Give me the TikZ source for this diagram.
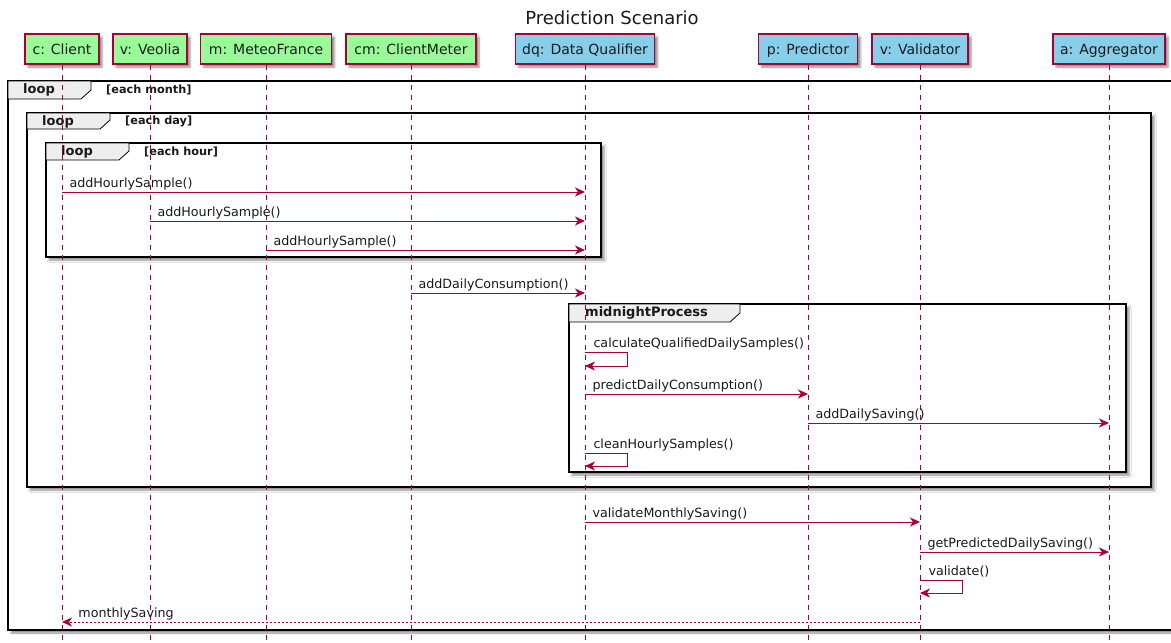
\documentclass[tikz,border=0pt]{standalone}
\usepackage{fontspec}
\setmainfont{DejaVu Sans}
\usetikzlibrary{arrows.meta,shadows,shadows.blur}

\definecolor{umlred}{HTML}{A80036}
\definecolor{actgreen}{HTML}{98FB98}
\definecolor{sysblue}{HTML}{87CEEB}
\definecolor{tabgray}{HTML}{EEEEEE}
\definecolor{ink}{HTML}{1A1A1A}

\tikzset{
  softshadow/.style={blur shadow={shadow xshift=3pt, shadow yshift=-3pt,
      shadow blur radius=2pt, shadow opacity=45}},
  participant/.style={draw=umlred, line width=1.2pt, minimum height=30pt,
      inner sep=0pt, text height=10.8pt, text depth=0pt, text=ink,
      font=\fontsize{14}{16}\selectfont, softshadow},
  actorbox/.style={participant, fill=actgreen},
  servicebox/.style={participant, fill=sysblue},
  lifeline/.style={umlred, line width=0.9pt, dash pattern=on 5pt off 5pt},
  msg/.style={umlred, line width=1pt,
      -{Stealth[length=10pt,width=9pt,inset=3pt]}},
  reply/.style={umlred, line width=0.8pt, dash pattern=on 2pt off 2pt,
      -{Stealth[length=10pt,width=9pt,inset=3pt]}},
  msglabel/.style={anchor=base west, inner sep=0pt, text=ink,
      font=\fontsize{12.7}{15}\selectfont},
  framebox/.style={draw=black, line width=1.6pt, fill=white, softshadow},
  tabbox/.style={draw=black, line width=0.8pt, fill=tabgray},
  tabtitle/.style={anchor=west, inner sep=0pt, text=ink,
      font=\bfseries\fontsize{13}{15}\selectfont},
  guardtext/.style={anchor=west, inner sep=0pt, text=ink,
      font=\bfseries\fontsize{11.3}{13}\selectfont},
}

% corner tab of a combined fragment: left, top, right, bottom
\newcommand\fragtab[4]{%
  \draw[tabbox] (#1,#2) -- (#3,#2) -- (#3,#4-9) -- (#3-10,#4) -- (#1,#4) -- cycle;}

\begin{document}
\begin{tikzpicture}[x=1pt,y=-1pt]
\useasboundingbox (0,0) rectangle (1171,643);
\coordinate (bottom) at (0,643);

% title
\node[font=\fontsize{18}{21}\selectfont, text=ink] (title) at (612,18) {Prediction Scenario};

% combined fragments
\path[framebox] (8,81) rectangle (1185,630);
\fragtab{8}{81}{91}{99}
\node[tabtitle] (monthloop) at (23,90) {loop};
\node[guardtext] (monthguard) at (106,89.5) {[each month]};

\path[framebox] (27,113) rectangle (1151,487);
\fragtab{27}{113}{110}{129}
\node[tabtitle] (dayloop) at (42,121.5) {loop};
\node[guardtext] (dayguard) at (125,121) {[each day]};

\path[framebox] (46,143) rectangle (601,257);
\fragtab{46}{143}{129}{160}
\node[tabtitle] (hourloop) at (61,152) {loop};
\node[guardtext] (hourguard) at (144,151.5) {[each hour]};

\path[framebox] (569,304) rectangle (1126,472);
\fragtab{569}{304}{740}{322}
\node[tabtitle] (midtitle) at (585,313) {midnightProcess};

% participants
\node[actorbox, minimum width=74pt] (c) at (62,49) {c: Client};
\node[actorbox, minimum width=74pt] (v) at (150,49) {v: Veolia};
\node[actorbox, minimum width=131pt] (m) at (266,49) {m: MeteoFrance};
\node[actorbox, minimum width=130pt] (cm) at (411,49) {cm: ClientMeter};
\node[servicebox, minimum width=139pt] (dq) at (585,49) {dq: Data Qualifier};
\node[servicebox, minimum width=99pt] (p) at (808,49) {p: Predictor};
\node[servicebox, minimum width=96pt] (vd) at (920,49) {v: Validator};
\node[servicebox, minimum width=112pt] (a) at (1109,49) {a: Aggregator};

% lifelines
\foreach \who in {c,v,m,cm,dq,p,vd,a}
  \draw[lifeline] (\who.south) -- (\who.south |- bottom);

% messages
\draw[msg] (c |- 0,192) -- (dq |- 0,192)
  node[msglabel, at start, xshift=7pt, yshift=4.5pt] {addHourlySample()};
\draw[msg] (v |- 0,221) -- (dq |- 0,221)
  node[msglabel, at start, xshift=7pt, yshift=4.5pt] {addHourlySample()};
\draw[msg] (m |- 0,250) -- (dq |- 0,250)
  node[msglabel, at start, xshift=7pt, yshift=4.5pt] {addHourlySample()};
\draw[msg] (cm |- 0,293) -- (dq |- 0,293)
  node[msglabel, at start, xshift=7pt, yshift=4.5pt] {addDailyConsumption()};

\draw[msg] (dq |- 0,352)
  node[msglabel, xshift=8pt, yshift=4.5pt] {calculateQualifiedDailySamples()}
  -- ++(42,0) -- ++(0,14) -- (dq |- 0,366);
\draw[msg] (dq |- 0,394) -- (p |- 0,394)
  node[msglabel, at start, xshift=7pt, yshift=4.5pt] {predictDailyConsumption()};
\draw[msg] (p |- 0,423) -- (a |- 0,423)
  node[msglabel, at start, xshift=7pt, yshift=4.5pt] {addDailySaving()};
\draw[msg] (dq |- 0,453)
  node[msglabel, xshift=8pt, yshift=4.5pt] {cleanHourlySamples()}
  -- ++(42,0) -- ++(0,13) -- (dq |- 0,466);

\draw[msg] (dq |- 0,522) -- (vd |- 0,522)
  node[msglabel, at start, xshift=7pt, yshift=4.5pt] {validateMonthlySaving()};
\draw[msg] (vd |- 0,552) -- (a |- 0,552)
  node[msglabel, at start, xshift=7pt, yshift=4.5pt] {getPredictedDailySaving()};
\draw[msg] (vd |- 0,580)
  node[msglabel, xshift=8pt, yshift=4.5pt] {validate()}
  -- ++(42,0) -- ++(0,13) -- (vd |- 0,593);
\draw[reply] (vd |- 0,622) -- (c |- 0,622)
  node[msglabel, at end, xshift=16pt, yshift=4.5pt] {monthlySaving};
\end{tikzpicture}
\end{document}
